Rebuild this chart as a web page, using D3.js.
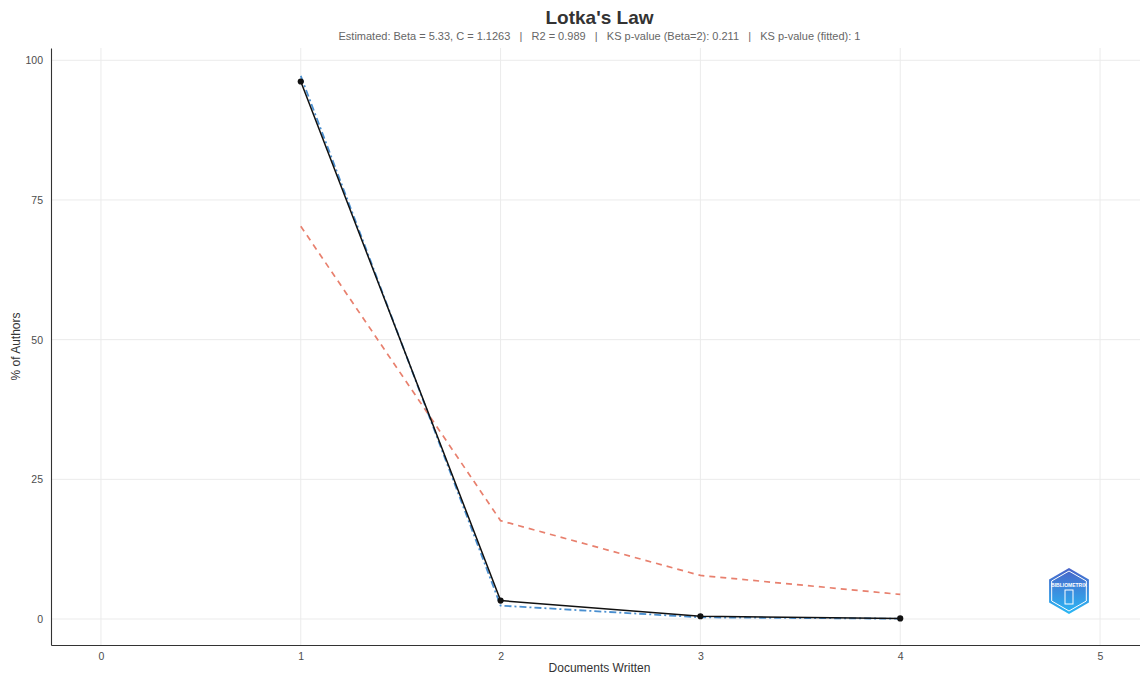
<!DOCTYPE html>
<html><head><meta charset="utf-8">
<script src="https://cdn.jsdelivr.net/npm/d3@7"></script>
<style>body{margin:0;background:#fff}svg{display:block;font-family:"Liberation Sans",Arial,sans-serif}</style>
</head><body><svg id="c" width="1140" height="675"></svg>
<script>
const docs = [1, 2, 3, 4];
const observed = [96.2, 3.3, 0.5, 0.1];
const fitted = [97.2, 2.4, 0.3, 0.06];
const theoretical = [70.3, 17.6, 7.8, 4.4];
const xTicks = [0, 1, 2, 3, 4, 5];
const yTicks = [0, 25, 50, 75, 100];
const title = "Lotka's Law";
const subtitle = "Estimated: Beta = 5.33, C = 1.1263   |   R2 = 0.989   |   KS p-value (Beta=2): 0.211   |   KS p-value (fitted): 1";

const svg = d3.select("#c");
const W = 1140, H = 675;
const m = {l: 51, r: 0, t: 48, b: 30};
const x = d3.scaleLinear().domain([-0.25, 5.2]).range([m.l, W - m.r]);
const y = d3.scaleLinear().domain([-4.65, 102.2]).range([H - m.b, m.t]);

// grid
svg.append("g").selectAll("line").data(xTicks).join("line")
  .attr("x1", d => x(d)).attr("x2", d => x(d)).attr("y1", m.t).attr("y2", H - m.b)
  .attr("stroke", "#ebebeb").attr("stroke-width", 1);
svg.append("g").selectAll("line").data(yTicks).join("line")
  .attr("y1", d => y(d)).attr("y2", d => y(d)).attr("x1", m.l).attr("x2", W - m.r)
  .attr("stroke", "#ebebeb").attr("stroke-width", 1);

// axes
const xa = svg.append("g").attr("transform", `translate(0,${H - m.b})`)
  .call(d3.axisBottom(x).tickValues(xTicks).tickSize(0).tickPadding(8).tickFormat(d3.format("d")));
const ya = svg.append("g").attr("transform", `translate(${m.l},0)`)
  .call(d3.axisLeft(y).tickValues(yTicks).tickSize(0).tickPadding(8).tickFormat(d3.format("d")));
[xa, ya].forEach(a => {
  a.select(".domain").attr("stroke", "#333").attr("stroke-width", 1.1);
  a.selectAll("text").attr("fill", "#4d4d4d").attr("font-size", 10.5).attr("font-family", "Liberation Sans, Arial, sans-serif");
});

// lines
const line = d3.line().x((d, i) => x(docs[i])).y(d => y(d));
svg.append("path").datum(theoretical).attr("d", line).attr("fill", "none")
  .attr("stroke", "#e8806e").attr("stroke-width", 1.7).attr("stroke-dasharray", "6,5");
svg.append("path").datum(fitted).attr("d", line).attr("fill", "none")
  .attr("stroke", "#4a8fd0").attr("stroke-width", 1.8).attr("stroke-dasharray", "7,3,2,3");
svg.append("path").datum(observed).attr("d", line).attr("fill", "none")
  .attr("stroke", "#111").attr("stroke-width", 1.5);
svg.append("g").selectAll("circle").data(observed).join("circle")
  .attr("cx", (d, i) => x(docs[i])).attr("cy", d => y(d)).attr("r", 3.1).attr("fill", "#111");

// titles
const cx = (m.l + W) / 2 + 4;
svg.append("text").attr("x", cx).attr("y", 24).attr("text-anchor", "middle")
  .attr("font-size", 19).attr("font-weight", "bold").attr("fill", "#333").text(title);
svg.append("text").attr("x", cx).attr("y", 40).attr("text-anchor", "middle")
  .attr("font-size", 11).attr("fill", "#666").attr("xml:space", "preserve").style("white-space", "pre").text(subtitle);
svg.append("text").attr("x", (m.l + W) / 2 + 4).attr("y", 672).attr("text-anchor", "middle")
  .attr("font-size", 12).attr("fill", "#333").text("Documents Written");
svg.append("text").attr("transform", `translate(20,${(m.t + H - m.b) / 2}) rotate(-90)`).attr("text-anchor", "middle")
  .attr("font-size", 12).attr("fill", "#333").text("% of Authors");

// logo
const defs = svg.append("defs");
const g = defs.append("linearGradient").attr("id", "lg").attr("x1", 0).attr("y1", 0).attr("x2", 0).attr("y2", 1);
g.append("stop").attr("offset", "0").attr("stop-color", "#4a63c8");
g.append("stop").attr("offset", "1").attr("stop-color", "#2ab8f5");
const lx = 1069, ly = 591, R = 23;
const hex = d3.range(6).map(k => { const a = Math.PI / 3 * k - Math.PI / 2; return [lx + R * Math.cos(a), ly + R * Math.sin(a)]; });
svg.append("polygon").attr("points", hex.map(p => p.join(",")).join(" ")).attr("fill", "url(#lg)");
const hex2 = d3.range(6).map(k => { const a = Math.PI / 3 * k - Math.PI / 2; return [lx + (R - 3) * Math.cos(a), ly + (R - 3) * Math.sin(a)]; });
svg.append("polygon").attr("points", hex2.map(p => p.join(",")).join(" ")).attr("fill", "none").attr("stroke", "#fff").attr("stroke-width", 1);
svg.append("text").attr("x", lx).attr("y", ly - 4).attr("text-anchor", "middle").attr("font-size", 5).attr("font-weight", "bold").attr("fill", "#fff").text("BIBLIOMETRIX");
svg.append("rect").attr("x", lx - 4).attr("y", ly - 1).attr("width", 8).attr("height", 14).attr("fill", "none").attr("stroke", "#fff").attr("stroke-width", 1);
</script></body></html>
